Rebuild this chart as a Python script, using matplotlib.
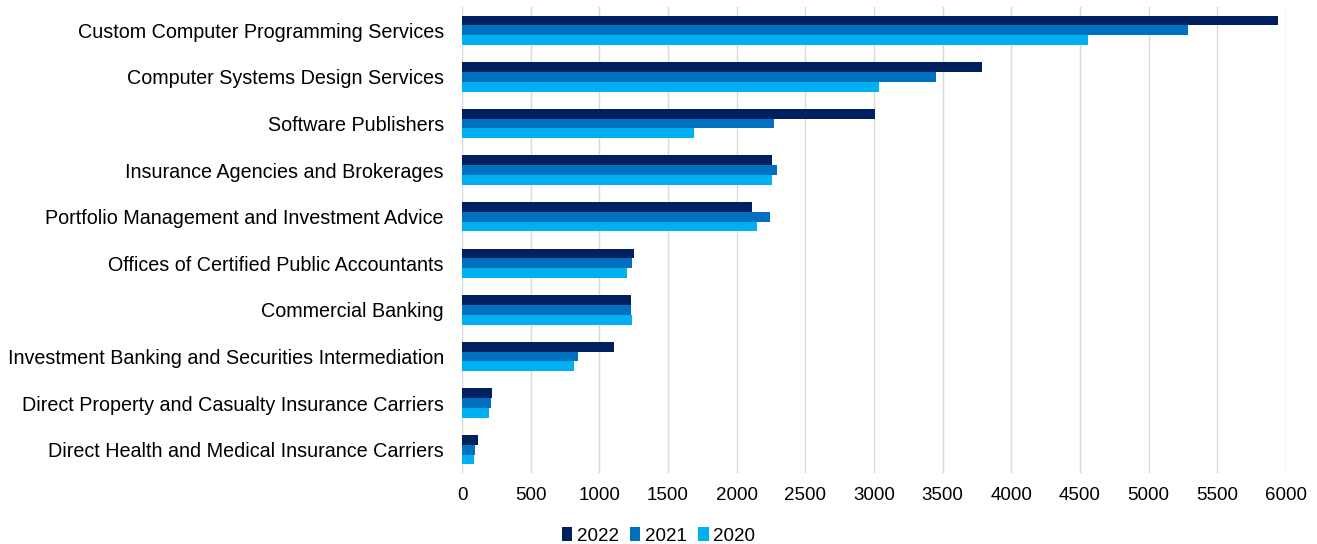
import numpy as np
import matplotlib.pyplot as plt

plt.rcParams["font.family"] = ["Liberation Sans", "DejaVu Sans"]

industrias = [
    "Custom Computer Programming Services",
    "Computer Systems Design Services",
    "Software Publishers",
    "Insurance Agencies and Brokerages",
    "Portfolio Management and Investment Advice",
    "Offices of Certified Public Accountants",
    "Commercial Banking",
    "Investment Banking and Securities Intermediation",
    "Direct Property and Casualty Insurance Carriers",
    "Direct Health and Medical Insurance Carriers",
]
anios = ["2022", "2021", "2020"]
valores_2022 = [5940, 3790, 3010, 2255, 2110, 1255, 1230, 1110, 215, 120]
valores_2021 = [5285, 3455, 2275, 2295, 2240, 1235, 1230, 842, 208, 98]
valores_2020 = [4560, 3040, 1690, 2255, 2145, 1205, 1235, 818, 200, 88]
colores = ["#002060", "#0070C0", "#00B0F0"]


def main():
    fig = plt.figure(figsize=(13.17, 5.44), dpi=100)
    ax = fig.add_axes([462 / 1317, 71 / 544, (1286 - 462) / 1317, 466 / 544])

    y = np.arange(len(industrias))
    alto = 0.21
    series = [valores_2022, valores_2021, valores_2020]
    for i, (valores, anio, color) in enumerate(zip(series, anios, colores)):
        ax.barh(y + (i - 1) * alto, valores, height=alto, color=color,
                label=anio, zorder=3)

    ax.set_ylim(len(industrias) - 0.5, -0.5)
    ax.set_xlim(0, 6000)
    ax.set_xticks(range(0, 6001, 500))
    ax.set_yticks(y)
    ax.set_yticklabels(industrias)
    ax.tick_params(axis="both", length=0, labelsize=13.5, colors="#000000")
    ax.tick_params(axis="y", pad=13, labelsize=14.2)
    ax.tick_params(axis="x", pad=10)
    ax.grid(axis="x", color="#D9D9D9", linewidth=1, zorder=0)
    for lado in ax.spines.values():
        lado.set_visible(False)

    fig.legend(loc="lower center", bbox_to_anchor=(0.5, -0.032), ncol=3,
               frameon=False, fontsize=13.5, handlelength=0.55,
               handleheight=0.75, handletextpad=0.25, columnspacing=0.6)

    fig.savefig("out.png", dpi=100)


if __name__ == "__main__":
    main()
